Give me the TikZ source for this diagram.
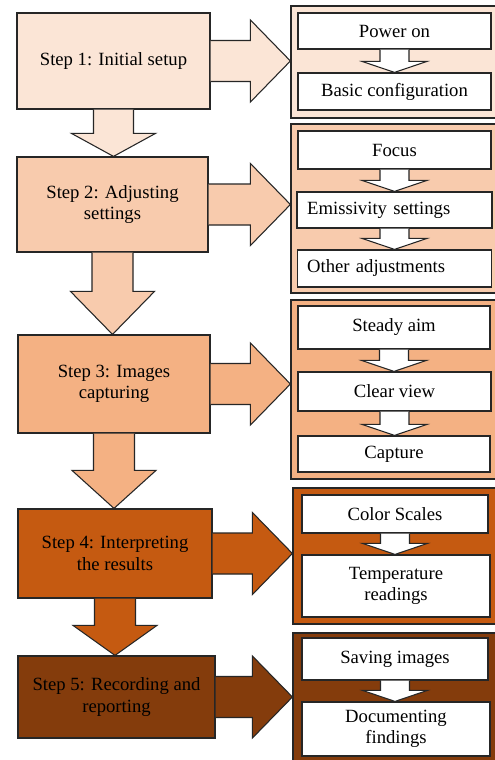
\documentclass[tikz,border=0pt]{standalone}
\usepackage{fontspec}
\setmainfont{Liberation Serif}
\usetikzlibrary{calc}
\definecolor{tone1}{HTML}{FBE5D6}
\definecolor{tone2}{HTML}{F8CBAD}
\definecolor{tone3}{HTML}{F4B183}
\definecolor{tone4}{HTML}{C55A11}
\definecolor{tone5}{HTML}{843C0C}
\definecolor{edge}{HTML}{262626}
\tikzset{
  dims/.style 2 args={minimum width=#1*0.75pt,minimum height=#2*0.75pt},
  stepbox/.style={draw=edge,line width=0.9pt,align=center,inner sep=0pt,
    font=\fontsize{14pt}{16pt}\selectfont},
  panel/.style={draw=edge,line width=0.9pt,inner sep=0pt},
  innerbox/.style={draw=edge,fill=white,line width=0.9pt,align=center,inner sep=0pt,
    font=\fontsize{14pt}{16pt}\selectfont},
  leftbox/.style={innerbox,align=left,inner xsep=7.5pt,text width=131pt},
  blockline/.style={draw=edge,line width=0.8pt,line join=miter}
}
% block arrows: from, to, half shaft, half head, head length, colour
\newcommand\rightblock[6]{%
  \draw[blockline,fill=#6] ($(#1.east)+(0,-#3)$) -- ($(#2.west |- #1.east)+(-#5,-#3)$)
    -- ($(#2.west |- #1.east)+(-#5,-#4)$) -- (#2.west |- #1.east)
    -- ($(#2.west |- #1.east)+(-#5,#4)$) -- ($(#2.west |- #1.east)+(-#5,#3)$)
    -- ($(#1.east)+(0,#3)$);}
\newcommand\downblock[6]{%
  \draw[blockline,fill=#6] ($(#1.south)+(-#3,0)$) -- ($(#1.south |- #2.north)+(-#3,-#5)$)
    -- ($(#1.south |- #2.north)+(-#4,-#5)$) -- (#1.south |- #2.north)
    -- ($(#1.south |- #2.north)+(#4,-#5)$) -- ($(#1.south |- #2.north)+(#3,-#5)$)
    -- ($(#1.south)+(#3,0)$);}
\begin{document}
\begin{tikzpicture}[x=0.75pt,y=-0.75pt]
  \useasboundingbox (0,0) rectangle (495,760);
  \clip (0,0) rectangle (495,760);
  \fill[white] (0,0) rectangle (495,760);
  %steps
  \node[stepbox,fill=tone1,dims={193}{96}] (s1) at (113.5,61) {Step 1: Initial setup};
  \node[stepbox,fill=tone2,dims={191}{95}] (s2) at (112.5,204.5) {Step 2: Adjusting\\settings};
  \node[stepbox,fill=tone3,dims={192}{98}] (s3) at (114,384) {Step 3: Images\\capturing};
  \node[stepbox,fill=tone4,dims={194}{89}] (s4) at (115,553.5) {Step 4: Interpreting\\the results};
  \node[stepbox,fill=tone5,dims={197}{82}] (s5) at (116.5,697) {Step 5: Recording and\\reporting};
  %panels
  \node[panel,fill=tone1,dims={209}{112}] (p1) at (395.5,62) {};
  \node[panel,fill=tone2,dims={209}{169}] (p2) at (395.5,208.5) {};
  \node[panel,fill=tone3,dims={209}{179}] (p3) at (395.5,389.5) {};
  \node[panel,fill=tone4,dims={207}{136}] (p4) at (396.5,556) {};
  \node[panel,fill=tone5,dims={207}{157}] (p5) at (396.5,711.5) {};
  %sub-steps
  \node[innerbox,dims={193}{36}] (p1a) at (394.5,31) {Power on};
  \node[innerbox,dims={193}{37}] (p1b) at (394.5,91.5) {Basic configuration};
  \node[innerbox,dims={193}{38}] (p2a) at (394.5,150) {Focus};
  \node[leftbox,dims={195}{36}] (p2b) at (394.5,210) {Emissivity settings};
  \node[leftbox,dims={193}{37}] (p2c) at (394.5,268.5) {Other adjustments};
  \node[innerbox,dims={192}{43}] (p3a) at (394,327.5) {Steady aim};
  \node[innerbox,dims={193}{39}] (p3b) at (394.5,391.5) {Clear view};
  \node[innerbox,dims={192}{36}] (p3c) at (394,454) {Capture};
  \node[innerbox,dims={186}{38}] (p4a) at (395,514) {Color Scales};
  \node[innerbox,dims={188}{62}] (p4b) at (396,586) {Temperature\\readings};
  \node[innerbox,dims={186}{42}] (p5a) at (395,659) {Saving images};
  \node[innerbox,dims={188}{54}] (p5b) at (396,729) {Documenting\\findings};
  %frecce
  \downblock{s1}{s2}{20}{42}{23}{tone1}
  \downblock{s2}{s3}{20.5}{42}{43}{tone2}
  \downblock{s3}{s4}{20.5}{42}{38}{tone3}
  \downblock{s4}{s5}{20.5}{42}{30}{tone4}
  \rightblock{s1}{p1}{20.5}{41}{40}{tone1}
  \rightblock{s2}{p2}{20.5}{41}{40}{tone2}
  \rightblock{s3}{p3}{20.5}{41}{40}{tone3}
  \rightblock{s4}{p4}{20.5}{41}{40}{tone4}
  \rightblock{s5}{p5}{20.5}{41}{40}{tone5}
  \foreach \a/\b in {p1a/p1b,p2a/p2b,p2b/p2c,p3a/p3b,p3b/p3c,p4a/p4b,p5a/p5b}
    \downblock{\a}{\b}{14.5}{32.5}{11}{white};
\end{tikzpicture}
\end{document}
